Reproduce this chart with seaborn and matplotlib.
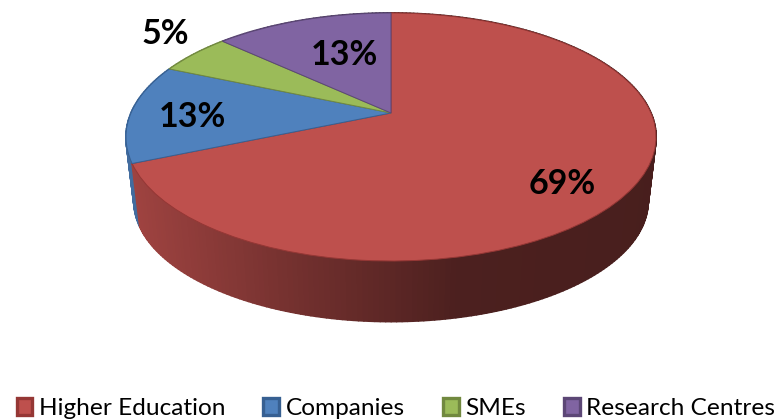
"""3D style pie: share of participants by organisation type."""
import numpy as np
import matplotlib; matplotlib.use("Agg")
import matplotlib.pyplot as plt
import matplotlib.transforms as mtransforms
from matplotlib.collections import PolyCollection
from matplotlib.patches import Patch
import seaborn as sns

categories = ["Higher Education", "Companies", "SMEs", "Research Centres"]
shares = [68.6, 12.9, 5.4, 13.1]
face_hex = ["#BE504D", "#4F81BD", "#9BBB59", "#8064A2"]
edge_hex = ["#953735", "#376092", "#71893F", "#5C4776"]

# disk geometry in output pixels
CX, CY = 391, 113
RX, RY = 260, 119.35
PERSP = 0.1935
DEPTH = 65
BASE_SCALE = 0.97

sns.set_theme(style="white")
plt.rcParams["font.family"] = ["Lato", "DejaVu Sans"]


class TiltedDisk(mtransforms.Transform):
    """Unit disk seen in perspective, mapped to pixel coordinates."""
    input_dims = 2
    output_dims = 2

    def __init__(self, scale=1.0, dy=0):
        super().__init__()
        self.scale = scale
        self.dy = dy

    def transform_non_affine(self, values):
        values = np.asarray(values, dtype=float)
        d = 1 + PERSP * values[:, 1]
        return np.column_stack([CX + self.scale * RX * values[:, 0] / d,
                                CY + self.dy - self.scale * RY * values[:, 1] / d])


def wall_shade(x):
    return np.interp(x, [130, 300, 460, 660], [0.84, 0.60, 0.40, 0.38])


palette = sns.color_palette(face_hex)
fig = plt.figure(figsize=(7.75, 4.2), dpi=100)
ax = fig.add_axes([0, 0, 1, 1])

top = TiltedDisk()
base = TiltedDisk(BASE_SCALE, DEPTH)
wedges, _ = ax.pie(shares, colors=palette, startangle=90, counterclock=False,
                   wedgeprops={"transform": top + ax.transData, "linewidth": 0.7})
for w, ec in zip(wedges, edge_hex):
    w.set_edgecolor(ec)
    w.set_zorder(3)

ax.set_aspect("auto")
ax.set_xlim(0, 775)
ax.set_ylim(420, 0)
ax.axis("off")

# side wall, red last so it sits in front of the blue sliver
for idx in [1, 2, 3, 0]:
    w = wedges[idx]
    phi = np.radians(np.linspace(w.theta1, w.theta2, int(w.theta2 - w.theta1) + 2))
    unit = np.column_stack([np.cos(phi), np.sin(phi)])
    upper = top.transform_non_affine(unit)
    lower = base.transform_non_affine(unit)
    polys, cols = [], []
    for i in range(len(phi) - 1):
        polys.append([upper[i], upper[i + 1], lower[i + 1], lower[i]])
        shade = wall_shade((upper[i, 0] + upper[i + 1, 0]) / 2)
        cols.append(tuple(np.array(palette[idx]) * shade))
    ax.add_collection(PolyCollection(polys, facecolors=cols, edgecolors=cols,
                                     linewidths=1.3, zorder=2), autolim=False)

# percentage labels
label_xy = [(562, 184), (192, 117), (165, 34), (344, 55)]
for (x, y), s in zip(label_xy, shares):
    ax.text(x, y, f"{s:.0f}%", ha="center", va="center", fontsize=24.5,
            fontweight="bold", color="black", zorder=5)

handles = [Patch(facecolor=f, edgecolor=e, linewidth=2.4)
           for f, e in zip(face_hex, edge_hex)]
ax.legend(handles, categories, loc="lower left", bbox_to_anchor=(0.0214, 0.002),
          ncol=4, frameon=False, fontsize=17.6, handlelength=0.65, handleheight=0.65,
          handletextpad=0.27, columnspacing=1.55, borderpad=0, borderaxespad=0,
          labelcolor="black")

fig.savefig("out.png", dpi=100)
plt.close(fig)
